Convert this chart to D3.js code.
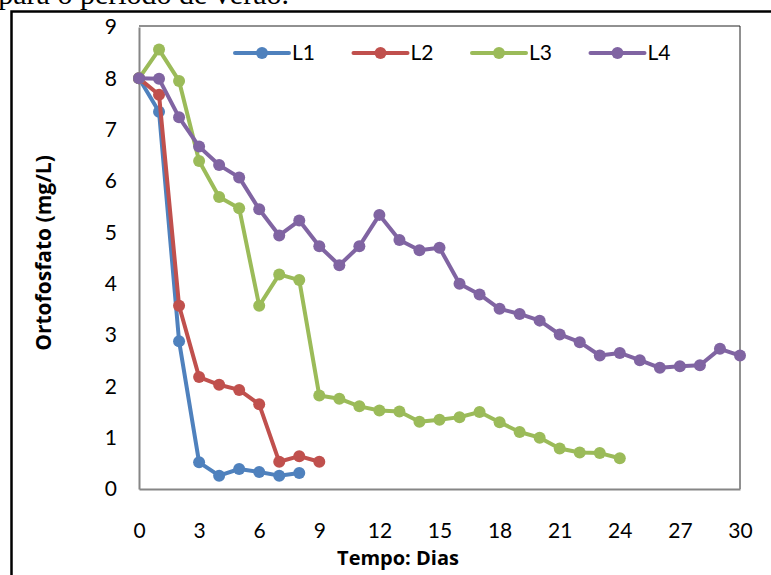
<!DOCTYPE html>
<html>
<head>
<meta charset="utf-8">
<script src="https://cdn.jsdelivr.net/npm/d3@7"></script>
<style>
  body { margin: 0; background: #fff; }
  svg { display: block; }
  text { font-family: Lato, "Open Sans", sans-serif; fill: #000; }
</style>
</head>
<body>
<div id="chart"></div>
<script>
// days on the x axis, one array per series
var days = d3.range(0, 31);
var seriesNames = ["L1", "L2", "L3", "L4"];
var colors = ["#4F81BD", "#C0504D", "#9BBB59", "#8064A2"];

var l1 = [8.00, 7.35, 2.88, 0.52, 0.26, 0.39, 0.33, 0.26, 0.31];
var l2 = [8.00, 7.68, 3.57, 2.18, 2.03, 1.93, 1.65, 0.53, 0.64, 0.53];
var l3 = [8.00, 8.56, 7.95, 6.39, 5.69, 5.47, 3.57, 4.18, 4.07, 1.82, 1.76, 1.61, 1.53,
          1.51, 1.31, 1.35, 1.40, 1.50, 1.30, 1.11, 1.00, 0.79, 0.71, 0.70, 0.60];
var l4 = [8.00, 7.99, 7.24, 6.67, 6.31, 6.07, 5.45, 4.94, 5.23, 4.73, 4.36, 4.73, 5.34,
          4.85, 4.65, 4.70, 4.00, 3.79, 3.51, 3.41, 3.28, 3.01, 2.86, 2.60, 2.65, 2.51,
          2.36, 2.39, 2.41, 2.73, 2.60];

var xTicks = [0, 3, 6, 9, 12, 15, 18, 21, 24, 27, 30];
var yTicks = [0, 1, 2, 3, 4, 5, 6, 7, 8, 9];

var W = 771, H = 575;
var plot = { left: 139, right: 740, top: 26, bottom: 489 };

var svg = d3.select("#chart").append("svg")
  .attr("width", W)
  .attr("height", H);

// caption line of the page above, cut by the crop
svg.append("text")
  .attr("x", 289)
  .attr("y", 4)
  .attr("text-anchor", "end")
  .style("font-family", "'Liberation Serif', serif")
  .style("font-size", "30px")
  .text("para o período de verão.");

// outer frame (only top and left visible)
svg.append("path")
  .attr("d", "M11.5,575 V11.5 H771")
  .attr("fill", "none")
  .attr("stroke", "#000")
  .attr("stroke-width", 2.5);

var x = d3.scaleLinear().domain([0, 30]).range([plot.left, plot.right]);
var y = d3.scaleLinear().domain([0, 9]).range([plot.bottom, 27]);

// plot area border
svg.append("path")
  .attr("d", "M" + plot.left + "," + plot.top + " H" + plot.right + " V" + plot.bottom)
  .attr("fill", "none")
  .attr("stroke", "#222")
  .attr("stroke-width", 1);

// axes
var xAxis = svg.append("g")
  .attr("transform", "translate(0," + plot.bottom + ")")
  .call(d3.axisBottom(x).tickValues(xTicks).tickSize(0).tickPadding(34));
var yAxis = svg.append("g")
  .attr("transform", "translate(" + plot.left + ",0)")
  .call(d3.axisLeft(y).tickValues(yTicks).tickSize(0).tickPadding(22));

[xAxis, yAxis].forEach(function (g) {
  g.select(".domain").attr("stroke", "#868686").attr("stroke-width", 2);
  g.selectAll("text").style("font-size", "21px").style("font-family", "Lato, sans-serif");
});

// axis titles
svg.append("text")
  .attr("x", 398)
  .attr("y", 565)
  .attr("text-anchor", "middle")
  .style("font-family", "'Open Sans', sans-serif")
  .style("font-size", "20px")
  .style("font-weight", "bold")
  .text("Tempo: Dias");

svg.append("text")
  .attr("transform", "translate(51,253) rotate(-90)")
  .attr("text-anchor", "middle")
  .style("font-family", "'Open Sans', sans-serif")
  .style("font-size", "21px")
  .style("font-weight", "bold")
  .text("Ortofosfato (mg/L)");

// series
var allSeries = [l1, l2, l3, l4].map(function (vals, i) {
  return {
    name: seriesNames[i],
    color: colors[i],
    points: vals.map(function (v, j) { return { d: days[j], v: v }; })
  };
});

var line = d3.line().x(function (p) { return x(p.d); }).y(function (p) { return y(p.v); });

var sg = svg.selectAll(".series").data(allSeries).enter().append("g").attr("class", "series");
sg.append("path")
  .attr("d", function (s) { return line(s.points); })
  .attr("fill", "none")
  .attr("stroke", function (s) { return s.color; })
  .attr("stroke-width", 4)
  .attr("stroke-linejoin", "round");
sg.selectAll("circle")
  .data(function (s) { return s.points.map(function (p) { return { p: p, c: s.color }; }); })
  .enter().append("circle")
  .attr("cx", function (o) { return x(o.p.d); })
  .attr("cy", function (o) { return y(o.p.v); })
  .attr("r", 6)
  .attr("fill", function (o) { return o.c; });

// legend
var legend = svg.selectAll(".legend").data(allSeries).enter().append("g")
  .attr("class", "legend")
  .attr("transform", function (s, i) { return "translate(" + (235 + i * 118.5) + ",53)"; });
legend.append("line")
  .attr("x1", 0).attr("x2", 54)
  .attr("stroke", function (s) { return s.color; })
  .attr("stroke-width", 4)
  .attr("stroke-linecap", "round");
legend.append("circle")
  .attr("cx", 27).attr("r", 6)
  .attr("fill", function (s) { return s.color; });
legend.append("text")
  .attr("x", 57).attr("y", 7)
  .style("font-size", "21px")
  .text(function (s) { return s.name; });
</script>
</body>
</html>
